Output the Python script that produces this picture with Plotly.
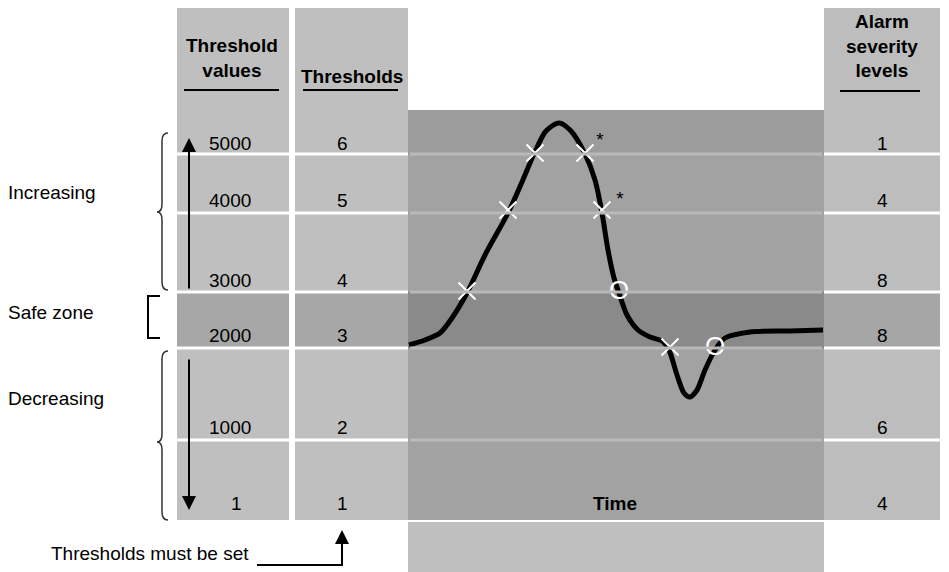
import plotly.graph_objects as go

FONT = "Arial, Liberation Sans, sans-serif"

# threshold table
threshold_values = ["5000", "4000", "3000", "2000", "1000", "1"]
thresholds = ["6", "5", "4", "3", "2", "1"]
alarm_levels = ["1", "4", "8", "8", "6", "4"]
row_label_y = [143, 200, 280, 335, 427, 503]

# band boundaries (pixel rows)
band_edges = [154, 213, 292, 348, 440]

# signal curve over time
curve_x = [409, 425, 440, 452, 467, 485, 508, 522, 534, 546, 559, 571, 585, 595, 602, 608,
           614, 619, 627, 638, 650, 662, 669, 677, 684, 690, 697, 705, 715, 725, 750, 790, 823]
curve_y = [345, 340, 333, 318, 293, 255, 213, 182, 154, 131, 123, 131, 154, 180, 213, 250,
           278, 293, 315, 330, 337, 341, 350, 375, 393, 397, 390, 370, 350, 338, 332, 331, 330]

# threshold crossings
cross_x = [467, 508, 535, 585, 602, 670]
cross_y = [291, 210, 153, 153, 210, 347]
clear_x = [619, 715]
clear_y = [292, 348]
star_x = [600, 620]
star_y = [141, 200]

fig = go.Figure()

shapes = []


def rect(x0, y0, x1, y1, color):
    shapes.append(dict(type="rect", x0=x0, y0=y0, x1=x1, y1=y1, fillcolor=color,
                       line=dict(width=0), layer="below"))


def line(x0, y0, x1, y1, color="black", width=2):
    shapes.append(dict(type="line", x0=x0, y0=y0, x1=x1, y1=y1,
                       line=dict(color=color, width=width)))


# left columns
for x0, x1 in [(177, 289), (295, 408)]:
    rect(x0, 8, x1, 520, "#bfbfbf")
    rect(x0, 292, x1, 348, "#a7a7a7")
# right column
rect(824, 8, 940, 520, "#bdbdbd")
rect(824, 292, 940, 348, "#a6a6a6")
# centre panel
rect(408, 110, 824, 520, "#a2a2a2")
rect(408, 110, 824, 154, "#9c9c9c")
rect(408, 292, 824, 348, "#8a8a8a")
rect(408, 522, 824, 572, "#bfbfbf")

# band separators
for y in band_edges:
    line(177, y, 408, y, "white", 3)
    line(824, y, 940, y, "white", 3)
    line(410, y, 822, y, "#b9b9b9", 3)
line(292, 8, 292, 520, "white", 5)

# header underlines
line(184, 90, 279, 90)
line(303, 90, 398, 90)
line(840, 91, 920, 91)

# braces
shapes.append(dict(type="path", line=dict(color="#333333", width=1.5),
                   path="M 168,133 Q 162,133 162,141 L 162,204 Q 162,212 157,212 "
                        "Q 162,212 162,220 L 162,282 Q 162,290 168,290"))
shapes.append(dict(type="path", line=dict(color="#333333", width=1.5),
                   path="M 168,351 Q 162,351 162,359 L 162,434 Q 162,442 157,442 "
                        "Q 162,442 162,450 L 162,512 Q 162,520 168,520"))
shapes.append(dict(type="path", line=dict(color="black", width=2),
                   path="M 160,296 L 148,296 L 148,338 L 160,338"))

# bottom pointer
line(257, 565, 343, 565)

fig.add_trace(go.Scatter(x=curve_x, y=curve_y, mode="lines",
                         line=dict(color="black", width=5, shape="spline", smoothing=0.8),
                         hoverinfo="skip"))
fig.add_trace(go.Scatter(x=cross_x, y=cross_y, mode="markers",
                         marker=dict(symbol="x-thin", size=17, line=dict(color="white", width=2)),
                         hoverinfo="skip"))
fig.add_trace(go.Scatter(x=clear_x, y=clear_y, mode="text", text=["O"] * len(clear_x),
                         textfont=dict(color="white", size=26, family=FONT), hoverinfo="skip"))
fig.add_trace(go.Scatter(x=star_x, y=star_y, mode="text", text=["*"] * len(star_x),
                         textfont=dict(color="black", size=19, family=FONT), hoverinfo="skip"))

ann = []


def txt(x, y, s, size=19, bold=False, xanchor="center"):
    ann.append(dict(x=x, y=y, text=f"<b>{s}</b>" if bold else s, showarrow=False,
                    xanchor=xanchor, yanchor="middle",
                    font=dict(family=FONT, size=size, color="black")))


for v, t, a, y in zip(threshold_values, thresholds, alarm_levels, row_label_y):
    if len(v) > 1:
        txt(207, y, v, xanchor="left")
    else:
        txt(236, y, v)
    txt(342, y, t)
    txt(882, y, a)

txt(232, 58, "Threshold<br>values", bold=True)
txt(352, 76, "Thresholds", bold=True)
txt(882, 46, "Alarm<br>severity<br>levels", bold=True)
txt(615, 503, "Time", bold=True)
txt(6, 192, "Increasing", xanchor="left")
txt(6, 312, "Safe zone", xanchor="left")
txt(6, 398, "Decreasing", xanchor="left")
txt(251, 553, "Thresholds must be set", xanchor="right")
txt(240, 578, "in ascending order", xanchor="right")

# arrows
for (hx, hy, tx, ty) in [(189, 138, 189, 290), (189, 510, 189, 358), (342, 530, 342, 566)]:
    ann.append(dict(x=hx, y=hy, ax=tx, ay=ty, xref="x", yref="y", axref="x", ayref="y",
                    showarrow=True, arrowhead=2, arrowsize=1.4, arrowwidth=2,
                    arrowcolor="black", text=""))

fig.update_layout(
    width=949, height=572, margin=dict(l=0, r=0, t=0, b=0),
    paper_bgcolor="white", plot_bgcolor="white", showlegend=False,
    xaxis=dict(range=[0, 949], visible=False, fixedrange=True),
    yaxis=dict(range=[572, 0], visible=False, fixedrange=True),
    shapes=shapes, annotations=ann,
)

fig.write_html("out.html", config={"displayModeBar": False},
               post_script="document.body.style.margin='0px';")
